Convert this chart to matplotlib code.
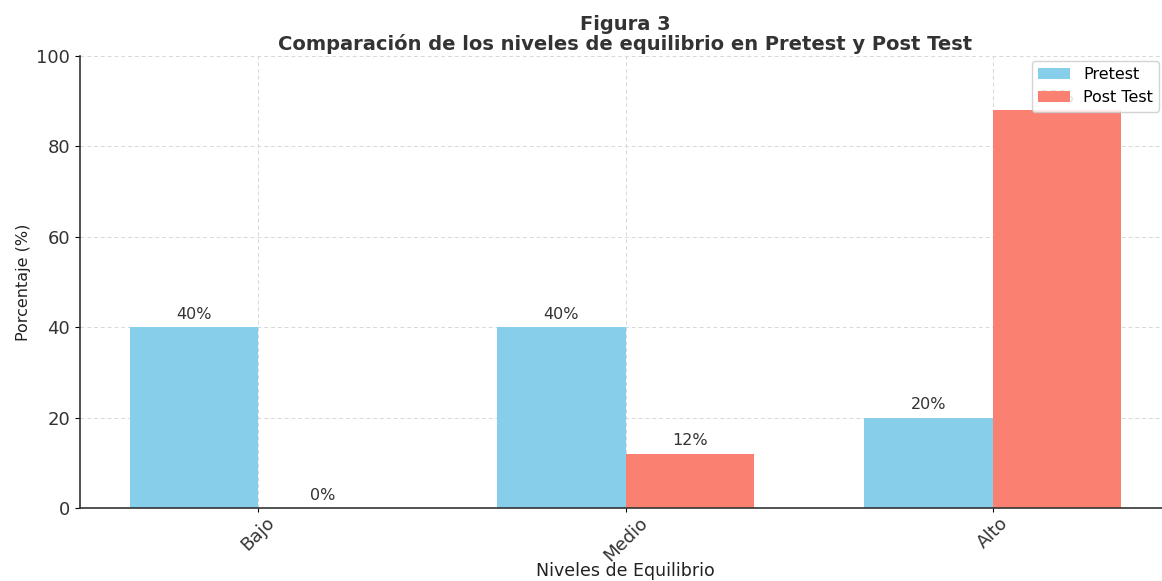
import matplotlib
matplotlib.use("Agg")
import matplotlib.pyplot as plt
import numpy as np

categories = ["Bajo", "Medio", "Alto"]
pretest = [40, 40, 20]
posttest = [0, 12, 88]
series_names = ["Pretest", "Post Test"]

plt.rcParams['font.family'] = ['DejaVu Sans']
fig = plt.figure(figsize=(11.62, 5.81), dpi=100)
ax = fig.add_axes([80/1162, (581-508)/581, (1171-80)/1162, (508-56)/581])

x = np.arange(len(categories))
w = 0.35
b1 = ax.bar(x - w/2, pretest, w, color="#87CEEB", label=series_names[0], zorder=2)
b2 = ax.bar(x + w/2, posttest, w, color="#FA8072", label=series_names[1], zorder=2)

for bars in (b1, b2):
    for r in bars:
        h = r.get_height()
        ax.text(r.get_x() + r.get_width()/2, h + 1.2, f"{h:.0f}%", ha="center", va="bottom",
                fontsize=11.5, color="#333333", zorder=3)

ax.set_ylim(0, 100)
ax.set_xlim(-0.485, 2.485)
ax.set_xticks(x)
ax.set_xticklabels(categories, rotation=45, fontsize=13, color="#333333")
ax.tick_params(axis='x', pad=1, length=3)
ax.tick_params(axis='y', labelsize=13, labelcolor="#333333")
ax.set_yticks([0, 20, 40, 60, 80, 100])
ax.set_ylabel("Porcentaje (%)", fontsize=11.5, color="#222222")
ax.set_xlabel("Niveles de Equilibrio", fontsize=12.5, color="#222222", labelpad=-2)
ax.set_title("Figura 3\nComparación de los niveles de equilibrio en Pretest y Post Test",
             fontsize=14, fontweight="bold", color="#333333", pad=4, linespacing=1.0)
ax.grid(True, linestyle=(0, (4, 3)), color="#d8d8d8", linewidth=0.7, zorder=0)
ax.set_axisbelow(True)
for s in ("top", "right"):
    ax.spines[s].set_visible(False)
ax.spines["left"].set_color("#333333")
ax.spines["bottom"].set_color("#333333")
ax.spines["left"].set_linewidth(1.2)
ax.spines["bottom"].set_linewidth(1.2)
leg = ax.legend(loc="upper right", bbox_to_anchor=(1.0 - 7/1091, 1.0), fontsize=11.5,
                framealpha=0.85, borderaxespad=0.3)
leg.set_zorder(5)

fig.savefig("out.png", dpi=100)
